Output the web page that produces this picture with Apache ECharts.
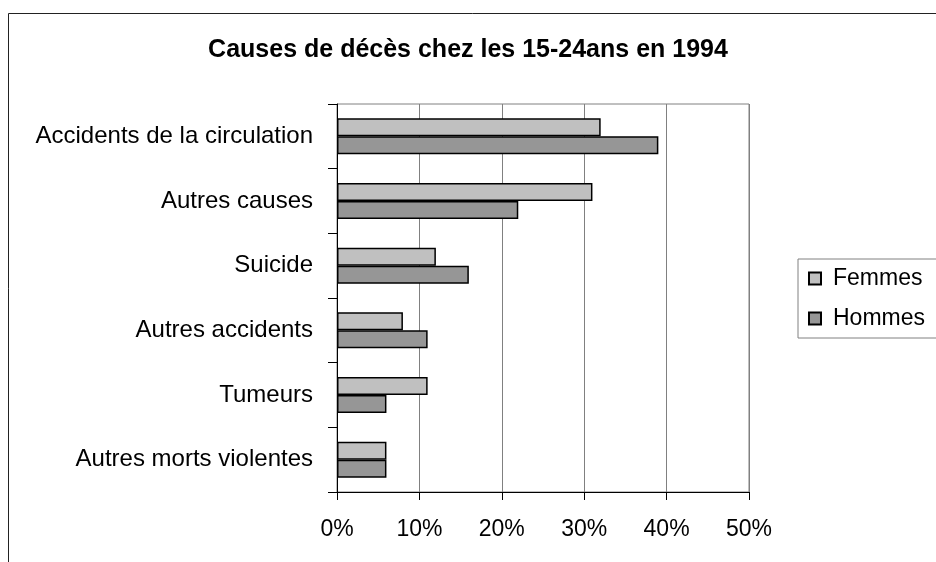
<!DOCTYPE html>
<html>
<head>
<meta charset="utf-8">
<script src="https://cdn.jsdelivr.net/npm/echarts@6/dist/echarts.min.js"></script>
<style>
  html, body { margin: 0; padding: 0; background: #fff; }
  #chart { width: 936px; height: 562px; }
</style>
</head>
<body>
<div id="chart"></div>
<script>
// données (en %)
const causes = [
  "Accidents de la circulation",
  "Autres causes",
  "Suicide",
  "Autres accidents",
  "Tumeurs",
  "Autres morts violentes"
];
const femmes = [32, 31, 12, 8, 11, 6];
const hommes = [39, 22, 16, 11, 6, 6];
const xTicks = [0, 10, 20, 30, 40, 50];

const font = "Liberation Sans, Arial, sans-serif";
const myChart = echarts.init(document.getElementById("chart"));

const option = {
  backgroundColor: "#fff",
  animation: false,
  title: {
    text: "Causes de décès chez les 15-24ans en 1994",
    left: "center",
    top: 33,
    textStyle: { fontFamily: font, fontSize: 25, fontWeight: "bold", color: "#000" }
  },
  // cadre du graphique
  graphic: [
    {
      type: "rect",
      shape: { x: 8.5, y: 13.5, width: 1000, height: 1000 },
      style: { fill: "none", stroke: "#222", lineWidth: 1 },
      silent: true
    }
  ],
  legend: {
    data: ["Femmes", "Hommes"],
    orient: "vertical",
    left: 798,
    top: 259,
    padding: [8, 60, 8, 10],
    itemGap: 17,
    itemWidth: 12,
    itemHeight: 12,
    borderColor: "#808080",
    borderWidth: 1,
    icon: "rect",
    textStyle: { fontFamily: font, fontSize: 23, color: "#000", padding: [0, 0, 0, 7] }
  },
  grid: {
    left: 337,
    top: 104,
    right: 187,
    bottom: 70,
    show: true,
    borderColor: "#808080",
    borderWidth: 1
  },
  xAxis: {
    type: "value",
    min: xTicks[0],
    max: xTicks[xTicks.length - 1],
    interval: 10,
    axisLine: { show: true, lineStyle: { color: "#000", width: 1 } },
    axisTick: { show: true, length: 8, lineStyle: { color: "#000" } },
    splitLine: { show: true, lineStyle: { color: "#808080", width: 1 } },
    axisLabel: {
      margin: 26,
      formatter: v => v + "%",
      fontFamily: font,
      fontSize: 23,
      color: "#000"
    }
  },
  yAxis: {
    type: "category",
    data: causes,
    inverse: true,
    axisLine: { show: true, lineStyle: { color: "#000", width: 1 } },
    axisTick: { show: true, length: 9, interval: 0, lineStyle: { color: "#000" } },
    axisLabel: {
      margin: 24,
      interval: 0,
      fontFamily: font,
      fontSize: 24,
      color: "#000"
    }
  },
  series: [
    {
      name: "Femmes",
      type: "bar",
      data: femmes,
      barWidth: 18,
      barGap: "0%",
      itemStyle: { color: "#c0c0c0", borderColor: "#000", borderWidth: 1.5 }
    },
    {
      name: "Hommes",
      type: "bar",
      data: hommes,
      barWidth: 18,
      barGap: "0%",
      itemStyle: { color: "#969696", borderColor: "#000", borderWidth: 1.5 }
    }
  ]
};

myChart.setOption(option);
</script>
</body>
</html>
